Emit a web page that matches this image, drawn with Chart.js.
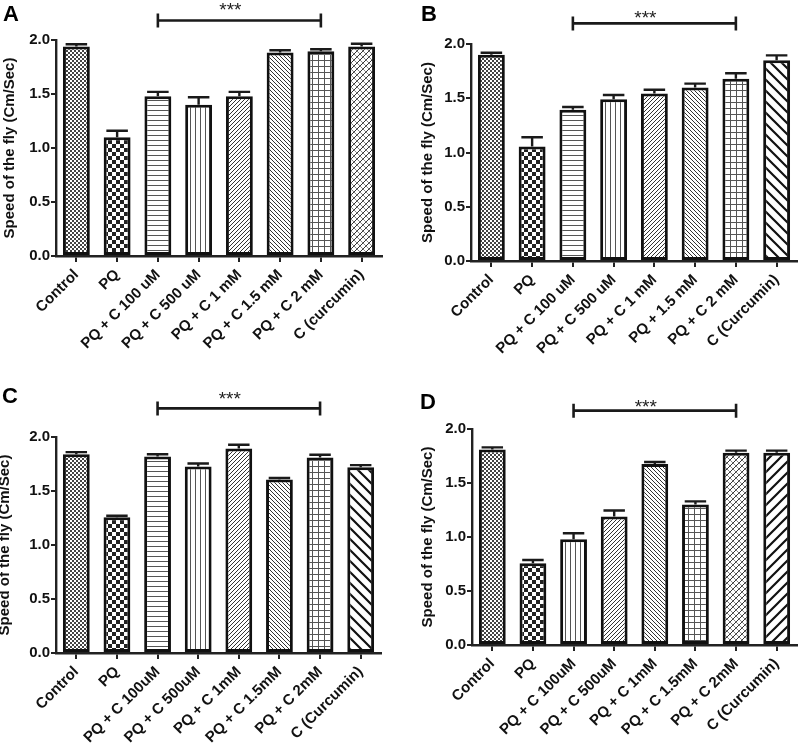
<!DOCTYPE html>
<html>
<head>
<meta charset="utf-8">
<script src="https://cdn.jsdelivr.net/npm/chart.js@4.4.0/dist/chart.umd.min.js"></script>
<style>
body { margin: 0; background: #fff; }
#wrap { position: relative; width: 800px; height: 752px; }
#wrap canvas { position: absolute; }
</style>
</head>
<body>
<div id="wrap">
  <canvas id="chartA" width="400" height="376" style="left:0;top:0"></canvas>
  <canvas id="chartB" width="400" height="376" style="left:400px;top:0"></canvas>
  <canvas id="chartC" width="400" height="376" style="left:0;top:376px"></canvas>
  <canvas id="chartD" width="400" height="376" style="left:400px;top:376px"></canvas>
</div>
<script>
// groups, one list per panel (the wording differs a little between panels)
var labelsA = ["Control", "PQ", "PQ + C 100 uM", "PQ + C 500 uM", "PQ + C 1 mM", "PQ + C 1.5 mM", "PQ + C 2 mM", "C (curcumin)"];
var labelsB = ["Control", "PQ", "PQ + C 100 uM", "PQ + C 500 uM", "PQ + C 1 mM", "PQ + 1.5 mM", "PQ + C 2 mM", "C (Curcumin)"];
var labelsC = ["Control", "PQ", "PQ + C 100uM", "PQ + C 500uM", "PQ + C 1mM", "PQ + C 1.5mM", "PQ + C 2mM", "C (Curcumin)"];
var labelsD = ["Control", "PQ", "PQ + C 100uM", "PQ + C 500uM", "PQ + C 1mM", "PQ + C 1.5mM", "PQ + C 2mM", "C (Curcumin)"];

// speed of the fly (cm/sec), mean and SEM
var speedA = [1.94, 1.10, 1.48, 1.40, 1.48, 1.885, 1.895, 1.94];
var semA   = [0.02, 0.06, 0.04, 0.07, 0.04, 0.02, 0.02, 0.025];
var speedB = [1.90, 1.055, 1.395, 1.49, 1.543, 1.60, 1.68, 1.85];
var semB   = [0.02, 0.085, 0.025, 0.04, 0.035, 0.035, 0.05, 0.045];
var speedC = [1.84, 1.256, 1.82, 1.727, 1.893, 1.607, 1.81, 1.72];
var semC   = [0.02, 0.015, 0.02, 0.028, 0.035, 0.013, 0.025, 0.02];
var speedD = [1.81, 0.756, 0.98, 1.19, 1.676, 1.30, 1.78, 1.78];
var semD   = [0.02, 0.031, 0.055, 0.055, 0.018, 0.03, 0.02, 0.02];

var yTicks = [0, 0.5, 1.0, 1.5, 2.0];
// significance bracket: from group 3 to group 7, drawn at this level
var bracketFrom = 2, bracketTo = 6;
var bracketLevel = [2.18, 2.19, 2.265, 2.17];

var patternsA = ["fineCheck", "check", "hlines", "vlines", "diagFwd", "diagBack", "grid", "cross"];
var patternsB = ["fineCheck", "check", "hlines", "vlines", "diagFwd", "diagBack", "grid", "wideBack"];
var patternsC = ["fineCheck", "check", "hlines", "vlines", "diagFwd", "diagBack", "grid", "wideBack"];
var patternsD = ["fineCheck", "check", "vlines", "diagFwd", "diagBack", "grid", "cross", "wideFwd"];

var FONT = "'Liberation Sans', Arial, sans-serif";

function makePattern(kind) {
	var c = document.createElement("canvas");
	var g = c.getContext("2d");
	var s = 4;
	if (kind == "check") s = 8;
	if (kind == "hlines" || kind == "vlines") s = 5;
	if (kind == "grid") s = 6;
	if (kind == "cross") s = 6;
	if (kind == "wideBack" || kind == "wideFwd") s = 11;
	c.width = s; c.height = s;
	g.fillStyle = "#fff";
	g.fillRect(0, 0, s, s);
	g.fillStyle = "#222";
	g.strokeStyle = "#333";
	g.lineWidth = 1;
	function fwd() {
		g.beginPath();
		g.moveTo(-1, s + 1); g.lineTo(s + 1, -1);
		g.moveTo(-1, 1); g.lineTo(1, -1);
		g.moveTo(s - 1, s + 1); g.lineTo(s + 1, s - 1);
		g.stroke();
	}
	function back() {
		g.beginPath();
		g.moveTo(-1, -1); g.lineTo(s + 1, s + 1);
		g.moveTo(s - 1, -1); g.lineTo(s + 1, 1);
		g.moveTo(-1, s - 1); g.lineTo(1, s + 1);
		g.stroke();
	}
	if (kind == "fineCheck") {
		g.fillStyle = "#444";
		g.fillRect(0, 0, 2, 2); g.fillRect(2, 2, 2, 2);
	} else if (kind == "check") {
		g.fillRect(0, 0, 4, 4); g.fillRect(4, 4, 4, 4);
	} else if (kind == "hlines") {
		g.fillStyle = "#555"; g.fillRect(0, 0, s, 1);
	} else if (kind == "vlines") {
		g.fillStyle = "#555"; g.fillRect(0, 0, 1, s);
	} else if (kind == "grid") {
		g.fillStyle = "#555"; g.fillRect(0, 0, s, 1); g.fillRect(0, 0, 1, s);
	} else if (kind == "diagFwd") {
		fwd();
	} else if (kind == "diagBack") {
		back();
	} else if (kind == "cross") {
		fwd(); g.strokeStyle = "#888"; back();
	} else if (kind == "wideBack") {
		g.strokeStyle = "#111"; g.lineWidth = 2.2; back();
	} else if (kind == "wideFwd") {
		g.strokeStyle = "#111"; g.lineWidth = 2.2; fwd();
	}
	return g.createPattern(c, "repeat");
}

function makeChart(id, labels, values, sem, patterns, level, lay) {
	var fills = patterns.map(makePattern);
	var extras = {
		id: "extras",
		afterDatasetsDraw: function(chart) {
			var ctx = chart.ctx;
			var x = chart.scales.x, y = chart.scales.y;
			var meta = chart.getDatasetMeta(0);
			ctx.save();
			ctx.strokeStyle = "#1a1a1a";
			ctx.lineWidth = 2.4;
			// error bars (upper half only)
			meta.data.forEach(function(bar, i) {
				var top = y.getPixelForValue(values[i]);
				var hi = y.getPixelForValue(values[i] + sem[i]);
				var half = bar.width * 0.4;
				ctx.beginPath();
				ctx.moveTo(bar.x, top); ctx.lineTo(bar.x, hi);
				ctx.moveTo(bar.x - half, hi); ctx.lineTo(bar.x + half, hi);
				ctx.stroke();
			});
			// bracket and stars
			var x1 = x.getPixelForValue(bracketFrom), x2 = x.getPixelForValue(bracketTo);
			var by = y.getPixelForValue(level);
			ctx.lineWidth = 2.6;
			ctx.beginPath();
			ctx.moveTo(x1, by); ctx.lineTo(x2, by);
			ctx.moveTo(x1, by - 7); ctx.lineTo(x1, by + 7);
			ctx.moveTo(x2, by - 7); ctx.lineTo(x2, by + 7);
			ctx.stroke();
			ctx.fillStyle = "#222";
			ctx.font = "19px " + FONT;
			ctx.textAlign = "center";
			ctx.textBaseline = "alphabetic";
			ctx.fillText("***", (x1 + x2) / 2 - 9, by - lay.starGap + 8);
			// panel letter
			ctx.fillStyle = "#000";
			ctx.font = "bold 22px " + FONT;
			ctx.textAlign = "left";
			ctx.fillText(lay.letter, lay.letterX, lay.letterY);
			// y axis title
			var area = chart.chartArea;
			ctx.translate(lay.titleX, (area.top + area.bottom) / 2);
			ctx.rotate(-Math.PI / 2);
			ctx.textAlign = "center";
			ctx.textBaseline = "middle";
			ctx.font = "bold 15px " + FONT;
			ctx.fillStyle = "#111";
			ctx.fillText("Speed of the fly (Cm/Sec)", 0, 0);
			ctx.restore();
		}
	};

	return new Chart(document.getElementById(id), {
		type: "bar",
		data: {
			labels: labels,
			datasets: [{
				data: values,
				backgroundColor: fills,
				borderColor: "#111",
				borderWidth: 3,
				borderSkipped: false,
				barPercentage: 0.66,
				categoryPercentage: 1
			}]
		},
		options: {
			responsive: false,
			animation: false,
			layout: { padding: { top: lay.top, right: 400 - lay.right, left: 0, bottom: 0 } },
			plugins: { legend: { display: false }, tooltip: { enabled: false } },
			scales: {
				x: {
					grid: { offset: false, drawOnChartArea: false, drawTicks: true, tickLength: 6, color: "#222", lineWidth: 2 },
					border: { display: true, color: "#222", width: 2.4 },
					ticks: {
						autoSkip: false, minRotation: 45, maxRotation: 45, padding: 4,
						color: "#111", font: { family: FONT, size: 15, weight: "bold" }
					},
					afterFit: function(scale) { scale.height = 376 - lay.bottom; }
				},
				y: {
					min: 0, max: 2,
					afterBuildTicks: function(scale) { scale.ticks = yTicks.map(function(v) { return { value: v }; }); },
					grid: { drawOnChartArea: false, drawTicks: true, tickLength: 5, color: "#222", lineWidth: 2 },
					border: { display: true, color: "#222", width: 2.4 },
					ticks: {
						padding: 1, color: "#111",
						font: { family: FONT, size: 15, weight: "bold" },
						callback: function(v) { return Number(v).toFixed(1); }
					},
					afterFit: function(scale) { scale.width = lay.left; }
				}
			}
		},
		plugins: [extras]
	});
}

makeChart("chartA", labelsA, speedA, semA, patternsA, bracketLevel[0],
	{ left: 56, right: 382, top: 40, bottom: 256, letter: "A", letterX: 3, letterY: 21, titleX: 10, starGap: 12.7 });
makeChart("chartB", labelsB, speedB, semB, patternsB, bracketLevel[1],
	{ left: 71, right: 397, top: 44, bottom: 261, letter: "B", letterX: 21, letterY: 21, titleX: 28, starGap: 7.3 });
makeChart("chartC", labelsC, speedC, semC, patternsC, bracketLevel[2],
	{ left: 56, right: 381, top: 61, bottom: 277, letter: "C", letterX: 2, letterY: 27, titleX: 5, starGap: 11.7 });
makeChart("chartD", labelsD, speedD, semD, patternsD, bracketLevel[3],
	{ left: 72, right: 397, top: 53, bottom: 269, letter: "D", letterX: 20, letterY: 33, titleX: 28, starGap: 6 });
</script>
</body>
</html>
